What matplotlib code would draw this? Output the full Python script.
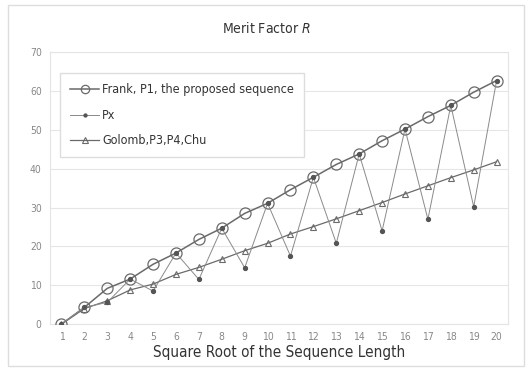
import matplotlib
matplotlib.use("Agg")
import matplotlib.pyplot as plt
from matplotlib.patches import Rectangle

# sqrt of sequence length
N = list(range(1, 21))
frank = [0, 4.3, 9.2, 11.6, 15.4, 18.3, 21.8, 24.7, 28.5, 31.1,
         34.6, 37.8, 41.1, 43.8, 47.2, 50.2, 53.4, 56.3, 59.7, 62.7]
px = [0, 4.3, 5.6, 11.6, 8.5, 18.3, 11.5, 24.7, 14.5, 31.1,
      17.5, 37.8, 20.8, 43.8, 24.0, 50.2, 27.0, 56.3, 30.2, 62.7]
golomb = [0, 4.0, 6.0, 8.8, 10.3, 12.8, 14.6, 16.7, 18.9, 20.8,
          23.2, 25.1, 27.1, 29.2, 31.3, 33.5, 35.6, 37.7, 39.7, 41.8]
yticks = [0, 10, 20, 30, 40, 50, 60, 70]

plt.rcParams["font.family"] = ["DejaVu Sans"]
plt.rcParams["font.stretch"] = "condensed"
INK, LINE, GRID = "#333333", "#6a6a6a", "#e6e6e6"

fig = plt.figure(figsize=(5.32, 3.70), dpi=100)
fig.patches.append(Rectangle((0.015, 0.012), 0.97, 0.975, transform=fig.transFigure,
                             fill=False, ec="#dddddd", lw=1.0))
ax = fig.add_axes([0.094, 0.124, 0.861, 0.735])

ax.plot(N, frank, color=LINE, lw=1.1, marker="o", ms=8, mfc="none", mec=LINE, mew=0.9,
        label="Frank, P1, the proposed sequence", zorder=3)
ax.plot(N, px, color="#8a8a8a", lw=0.7, marker="o", ms=2.8, mfc="#555555", mec="#555555",
        label="Px", zorder=4)
ax.plot(N, golomb, color=LINE, lw=0.9, marker="^", ms=5, mfc="none", mec=LINE, mew=0.8,
        label="Golomb,P3,P4,Chu", zorder=3)

ax.set_xlim(0.5, 20.5)
ax.set_ylim(0, 70)
ax.set_xticks(N)
ax.set_yticks(yticks)
ax.tick_params(length=0, labelsize=7.5, colors="#888888", pad=6)
ax.grid(axis="y", color=GRID, lw=0.8)
ax.set_axisbelow(True)
for sp in ax.spines.values():
    sp.set_color("#e4e4e4")
    sp.set_linewidth(0.8)

ax.set_xlabel("Square Root of the Sequence Length", fontsize=11, color=INK, labelpad=2)
fig.text(0.5, 0.922, r"Merit Factor $\it{R}$", ha="center", va="center",
         fontsize=10, color=INK)

leg = ax.legend(loc="upper left", bbox_to_anchor=(0.009, 0.945), fontsize=9,
                frameon=True, fancybox=False, edgecolor="#dddddd", borderpad=0.8,
                labelspacing=1.0, handlelength=2.3, handletextpad=0.25,
                markerscale=0.75, framealpha=1)
for t in leg.get_texts():
    t.set_color(INK)

fig.savefig("out.png", dpi=100)
